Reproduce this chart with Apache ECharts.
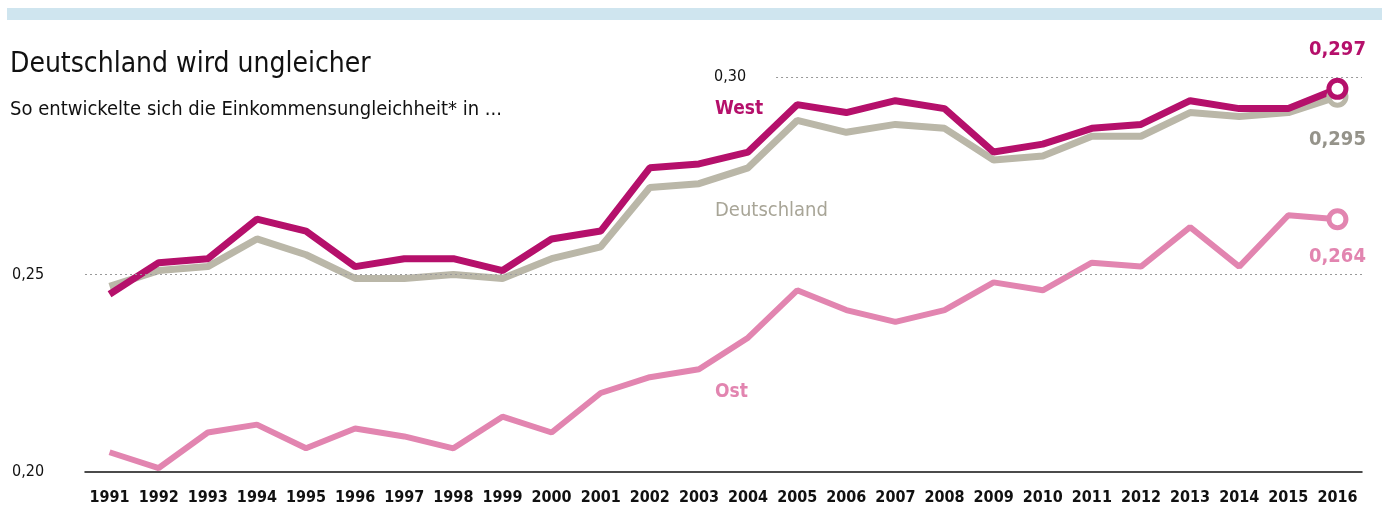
<!DOCTYPE html>
<html>
<head>
<meta charset="utf-8">
<script src="https://cdn.jsdelivr.net/npm/echarts@6/dist/echarts.min.js"></script>
<style>
  html, body { margin: 0; padding: 0; background: #fff; }
  #chart { width: 1382px; height: 510px; }
</style>
</head>
<body>
<div id="chart"></div>
<script>
const FONT = "'DejaVu Sans Condensed', 'Liberation Sans Narrow', sans-serif"

// Daten
const years = ['1991', '1992', '1993', '1994', '1995', '1996', '1997', '1998', '1999', '2000',
  '2001', '2002', '2003', '2004', '2005', '2006', '2007', '2008', '2009', '2010',
  '2011', '2012', '2013', '2014', '2015', '2016']
const west = [0.245, 0.253, 0.254, 0.264, 0.261, 0.252, 0.254, 0.254, 0.251, 0.259,
  0.261, 0.277, 0.278, 0.281, 0.293, 0.291, 0.294, 0.292, 0.281, 0.283,
  0.287, 0.288, 0.294, 0.292, 0.292, 0.297]
const deutschland = [0.247, 0.251, 0.252, 0.259, 0.255, 0.249, 0.249, 0.250, 0.249, 0.254,
  0.257, 0.272, 0.273, 0.277, 0.289, 0.286, 0.288, 0.287, 0.279, 0.280,
  0.285, 0.285, 0.291, 0.290, 0.291, 0.295]
const ost = [0.205, 0.201, 0.210, 0.212, 0.206, 0.211, 0.209, 0.206, 0.214, 0.210,
  0.220, 0.224, 0.226, 0.234, 0.246, 0.241, 0.238, 0.241, 0.248, 0.246,
  0.253, 0.252, 0.262, 0.252, 0.265, 0.264]

const fmt = v => v.toFixed(3).replace('.', ',')

const withEndMarker = (values, color, labelPos, labelDist, labelColor) =>
  values.map((v, i) => {
    if (i < values.length - 1) return v
    return {
      value: v,
      symbol: 'circle',
      symbolSize: 17,
      itemStyle: { color: '#fff', borderColor: color, borderWidth: 5 },
      label: {
        show: true,
        position: labelPos,
        distance: labelDist,
        formatter: () => fmt(v),
        color: labelColor,
        fontFamily: FONT,
        fontWeight: 'bold',
        fontSize: 20
      }
    }
  })

const chart = echarts.init(document.getElementById('chart'))

chart.setOption({
  animation: false,
  graphic: [
    { type: 'rect', left: 7, top: 8, shape: { width: 1375, height: 12 }, style: { fill: '#cfe5ef' } }
  ],
  title: [
    {
      text: 'Deutschland wird ungleicher',
      left: 5, top: 46,
      textStyle: { fontFamily: FONT, fontWeight: 'normal', fontSize: 28, color: '#111' }
    },
    {
      text: 'So entwickelte sich die Einkommensungleichheit* in ...',
      left: 5, top: 95,
      textStyle: { fontFamily: FONT, fontWeight: 'normal', fontSize: 20, color: '#111' }
    },
    {
      text: 'West', left: 710, top: 95,
      textStyle: { fontFamily: FONT, fontWeight: 'bold', fontSize: 19, color: '#b5106b' }
    },
    {
      text: 'Deutschland', left: 710, top: 196,
      textStyle: { fontFamily: FONT, fontWeight: 'normal', fontSize: 20, color: '#a8a597' }
    },
    {
      text: 'Ost', left: 710, top: 378,
      textStyle: { fontFamily: FONT, fontWeight: 'bold', fontSize: 19, color: '#e285b0' }
    }
  ],
  grid: { left: 85, width: 1277, top: 77, bottom: 38 },
  xAxis: [
    {
      type: 'category',
      data: years,
      boundaryGap: true,
      axisLine: { lineStyle: { color: '#111', width: 1.5 } },
      axisTick: { show: false },
      axisLabel: {
        color: '#111', fontFamily: FONT, fontWeight: 'bold', fontSize: 16, margin: 18,
        interval: 0
      }
    },
    { type: 'value', min: 0, max: 26, show: false }
  ],
  yAxis: {
    type: 'value',
    min: 0.2,
    max: 0.3,
    interval: 0.05,
    splitLine: { show: false },
    axisLine: { show: false },
    axisTick: { show: false },
    axisLabel: {
      align: 'left',
      margin: 73,
      color: '#111',
      fontFamily: FONT,
      fontSize: 16,
      formatter: v => (v > 0.29 ? '' : v.toFixed(2).replace('.', ','))
    }
  },
  series: [
    {
      // Hilfslinien
      type: 'line',
      xAxisIndex: 1,
      data: [],
      markLine: {
        silent: true,
        symbol: 'none',
        lineStyle: { color: '#999', type: [2, 3], width: 1 },
        label: { show: false },
        data: [
          [{ coord: [0, 0.25] }, { coord: [26, 0.25] }],
          [
            {
              coord: [14.07, 0.30],
              label: {
                show: true, position: 'start', distance: 30,
                formatter: '0,30', color: '#111', fontFamily: FONT, fontSize: 16
              }
            },
            { coord: [26, 0.30] }
          ]
        ]
      }
    },
    {
      name: 'Ost',
      type: 'line',
      data: withEndMarker(ost, '#e285b0', 'bottom', 17, '#e285b0'),
      symbol: 'none',
      lineStyle: { color: '#e285b0', width: 6 },
      itemStyle: { color: '#e285b0' }
    },
    {
      name: 'Deutschland',
      type: 'line',
      data: withEndMarker(deutschland, '#bab7a8', 'bottom', 22, '#95938a'),
      symbol: 'none',
      lineStyle: { color: '#bab7a8', width: 7 },
      itemStyle: { color: '#bab7a8' }
    },
    {
      name: 'West',
      type: 'line',
      data: withEndMarker(west, '#b5106b', 'top', 18, '#b5106b'),
      symbol: 'none',
      lineStyle: { color: '#b5106b', width: 7 },
      itemStyle: { color: '#b5106b' }
    }
  ]
})
</script>
</body>
</html>
